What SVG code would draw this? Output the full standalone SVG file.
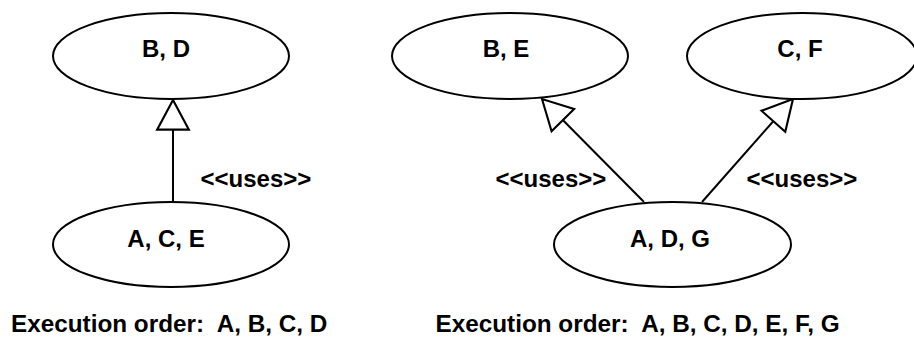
<svg xmlns="http://www.w3.org/2000/svg" width="914" height="338" viewBox="0 0 914 338">
  <style>
    .node ellipse { fill: #ffffff; stroke: #000000; stroke-width: 2; }
    text { font-family: "Liberation Sans", Arial, Helvetica, sans-serif; font-weight: bold; font-size: 24px; fill: #000000; }
    .label { text-anchor: middle; }
    .caption { font-size: 24.3px; }
    .edge { stroke: #000000; stroke-width: 2; fill: none; marker-end: url(#hollow); }
  </style>
  <defs>
    <!-- open (hollow) triangle head for the "uses" dependency -->
    <marker id="hollow" markerUnits="userSpaceOnUse" markerWidth="34" markerHeight="36" viewBox="-30 -17 32 34" refX="0" refY="0" orient="auto" overflow="visible">
      <path d="M0,0 L-28,-15 L-28,15 Z" fill="#ffffff" stroke="#000000" stroke-width="2" stroke-linejoin="miter"/>
    </marker>
  </defs>
  <rect x="0" y="0" width="914" height="338" fill="#ffffff"/>

  <!-- connectors -->
  <g id="connectors">
    <line class="edge" x1="173" y1="202" x2="173" y2="100"/>
    <line class="edge" x1="644" y1="202" x2="542" y2="99"/>
    <line class="edge" x1="702" y1="202" x2="793" y2="99"/>
  </g>

  <!-- left example -->
  <g id="node-bd" class="node">
    <ellipse cx="171" cy="56" rx="118" ry="43"/>
    <text class="label" x="166" y="57">B, D</text>
  </g>
  <g id="node-ace" class="node">
    <ellipse cx="171" cy="244.5" rx="118" ry="42.5"/>
    <text class="label" x="166" y="247">A, C, E</text>
  </g>

  <!-- right example -->
  <g id="node-be" class="node">
    <ellipse cx="510" cy="56" rx="118" ry="43"/>
    <text class="label" x="506" y="57">B, E</text>
  </g>
  <g id="node-cf" class="node">
    <ellipse cx="802" cy="56" rx="115" ry="43"/>
    <text class="label" x="800" y="57">C, F</text>
  </g>
  <g id="node-adg" class="node">
    <ellipse cx="672.5" cy="244.5" rx="118.5" ry="42.5"/>
    <text class="label" x="670" y="247">A, D, G</text>
  </g>

  <!-- stereotype labels -->
  <g id="edge-labels">
    <text x="200.5" y="187">&lt;&lt;uses&gt;&gt;</text>
    <text x="495.5" y="187">&lt;&lt;uses&gt;&gt;</text>
    <text x="746.5" y="187">&lt;&lt;uses&gt;&gt;</text>
  </g>

  <!-- captions -->
  <g id="captions">
    <text class="caption" x="11" y="332" xml:space="preserve">Execution order:  A, B, C, D</text>
    <text class="caption" x="435.5" y="332" xml:space="preserve">Execution order:  A, B, C, D, E, F, G</text>
  </g>
</svg>
